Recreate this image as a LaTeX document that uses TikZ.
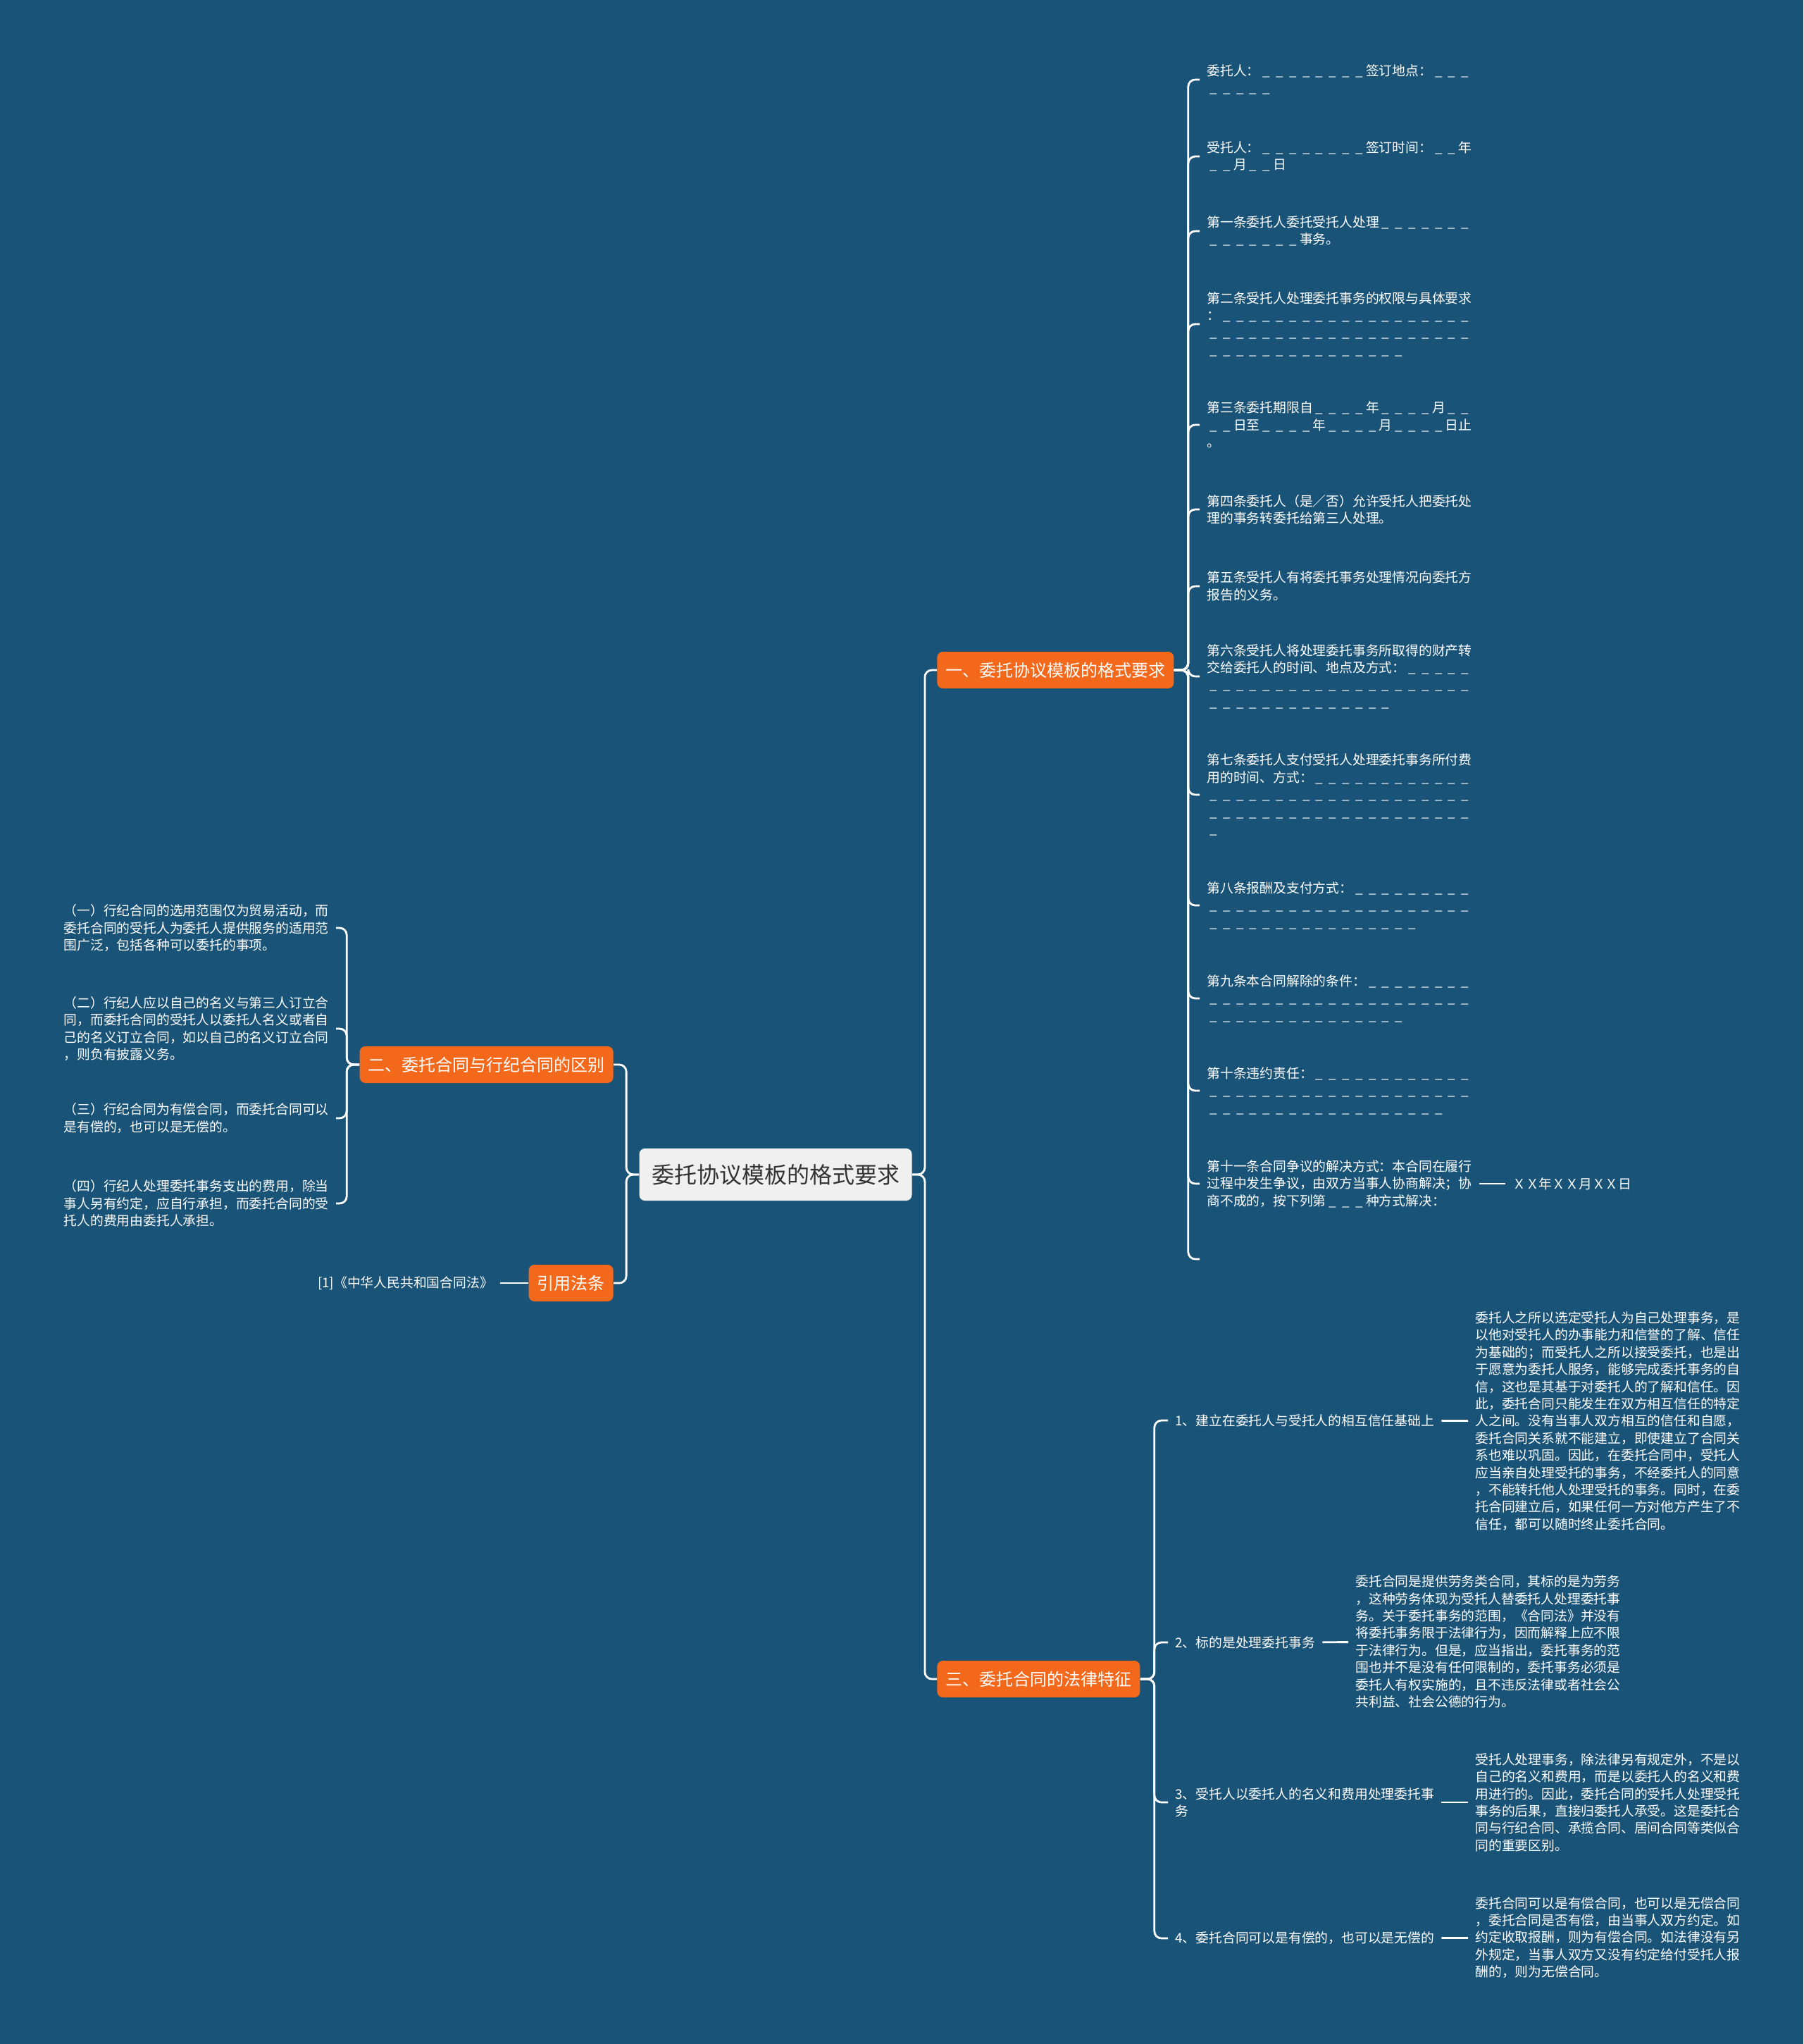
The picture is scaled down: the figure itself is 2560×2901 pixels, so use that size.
\documentclass[tikz,border=0pt]{standalone}
\usepackage{fontspec}
\setmainfont{Noto Sans CJK SC}
\usetikzlibrary{positioning}

\definecolor{canvas}{RGB}{26,83,120}
\definecolor{branchorange}{RGB}{244,104,27}
\definecolor{rootgray}{RGB}{240,240,240}
\definecolor{rootink}{RGB}{51,51,51}

% a row of blanks, one per character cell
\newcommand{\blank}[1]{\foreach \bi in {1,...,#1}{\makebox[1em]{\_}}}

\begin{document}
\begin{tikzpicture}[
    x=0.5pt, y=-0.5pt,
    root/.style={rectangle, rounded corners=4pt, fill=rootgray, text=rootink, font=\fontsize{16pt}{19pt}\selectfont, minimum width=193.5pt, minimum height=37pt},
    branch/.style={rectangle, rounded corners=4pt, fill=branchorange, text=white, font=\fontsize{12pt}{14pt}\selectfont, minimum height=26pt, inner xsep=6pt},
    leaf/.style={align=left, text=white, font=\fontsize{9.4pt}{12.2pt}\selectfont, inner xsep=5pt, inner ysep=1pt},
    link/.style={draw=white, line width=1.4pt, rounded corners=5pt}
]

\path[use as bounding box, fill=canvas] (0,0) rectangle (2560,2901);

% Root
\node[root] (root) at (1101,1667) {委托协议模板的格式要求};

% Branches
\node[branch, anchor=west] (b1) at (1330,951) {一、委托协议模板的格式要求};
\node[branch, anchor=east] (b2) at (871,1511) {二、委托合同与行纪合同的区别};
\node[branch, anchor=east] (law) at (871,1821) {引用法条};
\node[branch, anchor=west] (b3) at (1330,2383) {三、委托合同的法律特征};

% Branch 1 leaves
\node[leaf, anchor=west] (a1) at (1703,113) {委托人：\blank{8}签订地点：\blank{3}\\\blank{5}};
\node[leaf, anchor=west] (a2) at (1703,222) {受托人：\blank{8}签订时间：\blank{2}年\\\blank{2}月\blank{2}日};
\node[leaf, anchor=west] (a3) at (1703,328) {第一条委托人委托受托人处理\blank{7}\\\blank{7}事务。};
\node[leaf, anchor=west] (a4) at (1703,460) {第二条受托人处理委托事务的权限与具体要求\\：\blank{19}\\\blank{20}\\\blank{15}};
\node[leaf, anchor=west] (a5) at (1703,603) {第三条委托期限自\blank{4}年\blank{4}月\blank{2}\\\blank{2}日至\blank{4}年\blank{4}月\blank{4}日止\\。};
\node[leaf, anchor=west] (a6) at (1703,723) {第四条委托人（是／否）允许受托人把委托处\\理的事务转委托给第三人处理。};
\node[leaf, anchor=west] (a7) at (1703,832) {第五条受托人有将委托事务处理情况向委托方\\报告的义务。};
\node[leaf, anchor=west] (a8) at (1703,960) {第六条受托人将处理委托事务所取得的财产转\\交给委托人的时间、地点及方式：\blank{5}\\\blank{20}\\\blank{14}};
\node[leaf, anchor=west] (a9) at (1703,1128) {第七条委托人支付受托人处理委托事务所付费\\用的时间、方式：\blank{12}\\\blank{20}\\\blank{20}\\\blank{1}};
\node[leaf, anchor=west] (a10) at (1703,1285) {第八条报酬及支付方式：\blank{9}\\\blank{20}\\\blank{16}};
\node[leaf, anchor=west] (a11) at (1703,1417) {第九条本合同解除的条件：\blank{8}\\\blank{20}\\\blank{15}};
\node[leaf, anchor=west] (a12) at (1703,1548) {第十条违约责任：\blank{12}\\\blank{20}\\\blank{18}};
\node[leaf, anchor=west] (a13) at (1703,1680) {第十一条合同争议的解决方式：本合同在履行\\过程中发生争议，由双方当事人协商解决；协\\商不成的，按下列第\blank{3}种方式解决：};
\node[leaf, anchor=west] (a14) at (1703,1787) {};
\node[leaf, right=18.5pt of a13] (date) {ＸＸ年ＸＸ月ＸＸ日};

% Branch 2 leaves
\node[leaf, anchor=east] (c1) at (477,1317) {（一）行纪合同的选用范围仅为贸易活动，而\\委托合同的受托人为委托人提供服务的适用范\\围广泛，包括各种可以委托的事项。};
\node[leaf, anchor=east] (c2) at (477,1460) {（二）行纪人应以自己的名义与第三人订立合\\同，而委托合同的受托人以委托人名义或者自\\己的名义订立合同，如以自己的名义订立合同\\，则负有披露义务。};
\node[leaf, anchor=east] (c3) at (477,1587) {（三）行纪合同为有偿合同，而委托合同可以\\是有偿的，也可以是无偿的。};
\node[leaf, anchor=east] (c4) at (477,1708) {（四）行纪人处理委托事务支出的费用，除当\\事人另有约定，应自行承担，而委托合同的受\\托人的费用由委托人承担。};

% Cited law
\node[leaf, left=20pt of law] (lawref) {[1]《中华人民共和国合同法》};

% Branch 3 items
\node[leaf, anchor=west] (d1) at (1658,2016) {1、建立在委托人与受托人的相互信任基础上};
\node[leaf, anchor=west] (d2) at (1658,2331) {2、标的是处理委托事务};
\node[leaf, anchor=west] (d3) at (1658,2558) {3、受托人以委托人的名义和费用处理委托事\\务};
\node[leaf, anchor=west] (d4) at (1658,2751) {4、委托合同可以是有偿的，也可以是无偿的};

% Branch 3 details
\node[leaf, anchor=west] (e1) at (2084,2017) {委托人之所以选定受托人为自己处理事务，是\\以他对受托人的办事能力和信誉的了解、信任\\为基础的；而受托人之所以接受委托，也是出\\于愿意为委托人服务，能够完成委托事务的自\\信，这也是其基于对委托人的了解和信任。因\\此，委托合同只能发生在双方相互信任的特定\\人之间。没有当事人双方相互的信任和自愿，\\委托合同关系就不能建立，即使建立了合同关\\系也难以巩固。因此，在委托合同中，受托人\\应当亲自处理受托的事务，不经委托人的同意\\，不能转托他人处理受托的事务。同时，在委\\托合同建立后，如果任何一方对他方产生了不\\信任，都可以随时终止委托合同。};
\node[leaf, anchor=west] (e2) at (1914,2330) {委托合同是提供劳务类合同，其标的是为劳务\\，这种劳务体现为受托人替委托人处理委托事\\务。关于委托事务的范围，《合同法》并没有\\将委托事务限于法律行为，因而解释上应不限\\于法律行为。但是，应当指出，委托事务的范\\围也并不是没有任何限制的，委托事务必须是\\委托人有权实施的，且不违反法律或者社会公\\共利益、社会公德的行为。};
\node[leaf, anchor=west] (e3) at (2084,2558) {受托人处理事务，除法律另有规定外，不是以\\自己的名义和费用，而是以委托人的名义和费\\用进行的。因此，委托合同的受托人处理受托\\事务的后果，直接归委托人承受。这是委托合\\同与行纪合同、承揽合同、居间合同等类似合\\同的重要区别。};
\node[leaf, anchor=west] (e4) at (2084,2750) {委托合同可以是有偿合同，也可以是无偿合同\\，委托合同是否有偿，由当事人双方约定。如\\约定收取报酬，则为有偿合同。如法律没有另\\外规定，当事人双方又没有约定给付受托人报\\酬的，则为无偿合同。};

% Root links
\draw[link] (root.east) -- ++(18,0) |- (b1.west);
\draw[link] (root.east) -- ++(18,0) |- (b3.west);
\draw[link] (root.west) -- ++(-18,0) |- (b2.east);
\draw[link] (root.west) -- ++(-18,0) |- (law.east);

% Branch 1 links
\draw[link] (b1.east) -- ++(20,0) |- (a1.west);
\draw[link] (b1.east) -- ++(20,0) |- (a2.west);
\draw[link] (b1.east) -- ++(20,0) |- (a3.west);
\draw[link] (b1.east) -- ++(20,0) |- (a4.west);
\draw[link] (b1.east) -- ++(20,0) |- (a5.west);
\draw[link] (b1.east) -- ++(20,0) |- (a6.west);
\draw[link] (b1.east) -- ++(20,0) |- (a7.west);
\draw[link] (b1.east) -- ++(20,0) |- (a8.west);
\draw[link] (b1.east) -- ++(20,0) |- (a9.west);
\draw[link] (b1.east) -- ++(20,0) |- (a10.west);
\draw[link] (b1.east) -- ++(20,0) |- (a11.west);
\draw[link] (b1.east) -- ++(20,0) |- (a12.west);
\draw[link] (b1.east) -- ++(20,0) |- (a13.west);
\draw[link] (b1.east) -- ++(20,0) |- (a14.west);
\draw[link] (a13) -- (date);

% Branch 2 links
\draw[link] (b2.west) -- ++(-18,0) |- (c1.east);
\draw[link] (b2.west) -- ++(-18,0) |- (c2.east);
\draw[link] (b2.west) -- ++(-18,0) |- (c3.east);
\draw[link] (b2.west) -- ++(-18,0) |- (c4.east);
\draw[link] (law) -- (lawref);

% Branch 3 links
\draw[link] (b3.east) -- ++(20,0) |- (d1.west);
\draw[link] (b3.east) -- ++(20,0) |- (d2.west);
\draw[link] (b3.east) -- ++(20,0) |- (d3.west);
\draw[link] (b3.east) -- ++(20,0) |- (d4.west);
\draw[link] (d1) -- (e1);
\draw[link] (d2) -- (e2);
\draw[link] (d3) -- (e3);
\draw[link] (d4) -- (e4);

\end{tikzpicture}
\end{document}
